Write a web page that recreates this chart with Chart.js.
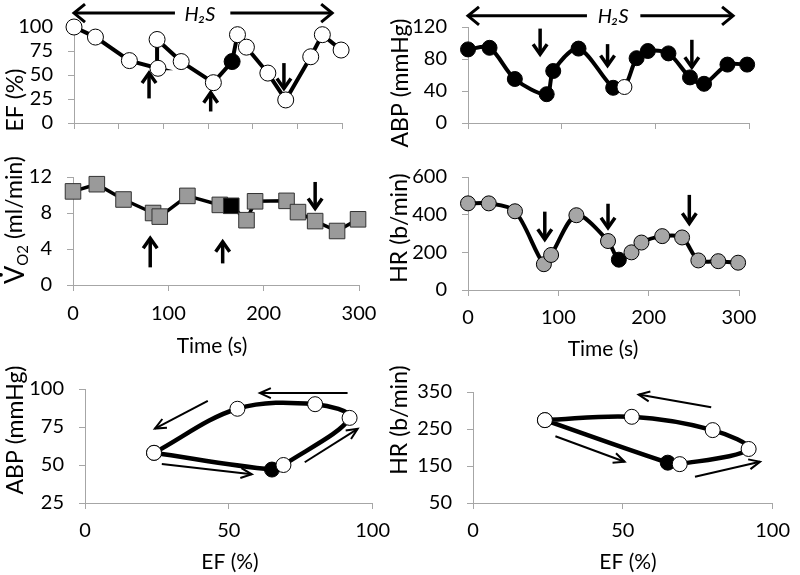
<!DOCTYPE html>
<html><head><meta charset="utf-8">
<script src="https://cdn.jsdelivr.net/npm/chart.js@4"></script>
<style>
html,body{margin:0;padding:0;background:#fff}
body{width:800px;height:575px;overflow:hidden;position:relative}
canvas{position:absolute;display:block}
</style></head><body>
<canvas id="cA"></canvas><canvas id="cB"></canvas><canvas id="cC"></canvas>
<canvas id="cD"></canvas><canvas id="cE"></canvas><canvas id="cF"></canvas>
<script>
// ---------------- DATA ----------------
const efTime   = [0, 24, 62, 94, 93, 120, 156, 177, 183, 193, 217, 237, 265, 278, 299];
const efValues = [100, 89.5, 65, 57, 87, 64, 42, 64, 92, 79, 52, 24, 69, 92, 76];
const efBlackIndex = 7;

const abpTime   = [0, 23, 50, 84, 91, 118, 155, 167, 180, 192, 214, 237, 252, 277, 298];
const abpValues = [92, 94, 55, 36, 65, 93, 44, 45, 81, 90, 87, 57, 49, 73, 73];
const abpWhiteIndex = 7;

const vo2Time   = [0, 25, 53, 84, 91, 120, 154, 166, 182, 191, 224, 236, 254, 277, 299];
const vo2Values = [10.4, 11.2, 9.5, 8.0, 7.6, 9.9, 8.9, 8.8, 7.2, 9.3, 9.35, 8.1, 7.1, 6.0, 7.3];
const vo2BlackIndex = 7;

const hrTime   = [0, 23, 52, 84, 92, 120, 155, 167, 181, 192, 215, 237, 255, 277, 299];
const hrValues = [460, 460, 418, 137, 186, 397, 260, 161, 200, 252, 286, 279, 157, 153, 145];
const hrBlackIndex = 7;

const loopEF  = [24, 65, 69, 92, 80, 53, 24];
const loopABP = [58, 47, 50, 81, 90, 87, 58];
const loopHR  = [274, 159, 155, 196, 247, 283, 274];
const loopBlackIndex = 1;

// tick labels
const efTicks   = [0, 25, 50, 75, 100];
const abpTicks  = [0, 40, 80, 120];
const vo2Ticks  = [0, 4, 8, 12];
const hrTicks   = [0, 200, 400, 600];
const timeTicksFine = [0, 50, 100, 150, 200, 250, 300];
const timeTicks = [0, 100, 200, 300];
const loopEFTicks  = [0, 50, 100];
const loopABPTicks = [25, 50, 75, 100];
const loopHRTicks  = [50, 150, 250, 350];

// annotation arrows [x1, y1, x2, y2] in data units (head at x2,y2)
const efArrows  = [[84, 25.6, 84, 52], [153, 12, 153, 31.6], [235, 62.4, 235, 35.9]];
const abpArrows = [[77, 118, 77, 86], [149, 98.6, 149, 71.8], [239, 104, 239, 69.6]];
const vo2Arrows = [[81, 1.96, 81, 5.2], [157, 2.4, 157, 4.8], [254, 11.45, 254, 8.5]];
const hrArrows  = [[85, 416, 85, 269], [155, 458, 155, 331], [245, 505, 245, 354]];
const loopABPArrows = [[91.3, 97.3, 60.8, 97.3], [42.7, 92.2, 24.3, 74.0], [26.7, 50.6, 58, 43.9], [76.4, 51.8, 94.8, 73.8]];
const loopHRArrows  = [[79.5, 309, 55.3, 343], [27.5, 230.5, 50.6, 161.5], [74.1, 120.7, 95.8, 161.5]];
// H2S span: [y, start, gapStart, gapEnd, end, labelX]
const h2sEF  = [114.5, 0, 113, 175, 289, 141];
const h2sABP = [134, 0, 127, 184, 283, 155];

// ---------------- RENDERING ----------------
const FONT = 'Lato, "Open Sans", sans-serif';
const TICK_SIZE = 20, XTITLE_SIZE = 21, YTITLE_SIZE = 23;
Chart.defaults.font.family = FONT;
Chart.defaults.font.size = TICK_SIZE;
Chart.defaults.color = '#000';

function pts(xs, ys) { return xs.map((x, i) => ({x: x, y: ys[i]})); }
function fills(n, base, idx, special) { const a = []; for (let i = 0; i < n; i++) a.push(i === idx ? special : base); return a; }

function head(ctx, x, y, ang, hl, hw) {
  const ux = Math.cos(ang), uy = Math.sin(ang);
  ctx.beginPath();
  ctx.moveTo(x - hl * ux - hw * uy, y - hl * uy + hw * ux);
  ctx.lineTo(x, y);
  ctx.lineTo(x - hl * ux + hw * uy, y - hl * uy - hw * ux);
  ctx.stroke();
}
function arrow(ctx, x1, y1, x2, y2, lw, hl, hw) {
  ctx.lineWidth = lw;
  ctx.beginPath(); ctx.moveTo(x1, y1); ctx.lineTo(x2, y2); ctx.stroke();
  head(ctx, x2, y2, Math.atan2(y2 - y1, x2 - x1), hl, hw);
}

const annotPlugin = {
  id: 'annot',
  afterDatasetsDraw(chart, args, o) {
    const ctx = chart.ctx, xs = chart.scales.x, ys = chart.scales.y;
    const px = v => xs.getPixelForValue(v), py = v => ys.getPixelForValue(v);
    ctx.save();
    ctx.strokeStyle = '#000'; ctx.fillStyle = '#000';
    ctx.lineCap = 'butt'; ctx.lineJoin = 'miter';
    (o.arrows || []).forEach(a => arrow(ctx, px(a[0]), py(a[1]), px(a[2]), py(a[3]), o.lw, o.hl, o.hw));
    if (o.h2s) {
      const h = o.h2s, y = py(h[0]);
      arrow(ctx, px(h[2]), y, px(h[1]), y, 3, 11, 9);
      arrow(ctx, px(h[3]), y, px(h[4]), y, 3, 11, 9);
      ctx.font = 'italic 20px ' + FONT;
      ctx.textAlign = 'center'; ctx.textBaseline = 'middle';
      ctx.fillText('H\u2082S', px(h[5]), y + 1);
    }
    const off = o.offset;
    (o.titles || []).forEach(t => {
      ctx.save();
      ctx.translate(t.x - off[0], t.y - off[1]);
      if (t.rot) ctx.rotate(-Math.PI / 2);
      ctx.textBaseline = 'middle';
      if (t.parts) {
        let total = 0;
        t.parts.forEach(p => { ctx.font = p.size + 'px ' + FONT; p.w = ctx.measureText(p.text).width; total += p.w; });
        let x = -total / 2;
        ctx.textAlign = 'left';
        t.parts.forEach(p => {
          ctx.font = p.size + 'px ' + FONT;
          ctx.fillText(p.text, x, p.dy || 0);
          if (p.dot) { ctx.beginPath(); ctx.arc(x + p.w / 2, -p.size * 0.52, 1.9, 0, Math.PI * 2); ctx.fill(); }
          x += p.w;
        });
      } else {
        ctx.font = (t.rot ? YTITLE_SIZE : XTITLE_SIZE) + 'px ' + FONT;
        ctx.textAlign = 'center';
        ctx.fillText(t.text, 0, 0);
      }
      ctx.restore();
    });
    ctx.restore();
  }
};

function axisOpts(min, max, ticks, labels, pad, fit) {
  return {
    type: 'linear', min: min, max: max, offset: false,
    afterFit: fit,
    afterBuildTicks: s => { s.ticks = ticks.map(v => ({value: v})); },
    ticks: {display: labels, padding: pad, font: {size: TICK_SIZE, family: FONT}, color: '#000', maxRotation: 0},
    grid: {display: true, drawOnChartArea: false, drawTicks: true, tickLength: 6, color: '#a6a6a6', lineWidth: 1},
    border: {display: true, color: '#a6a6a6', width: 1}
  };
}

function panel(id, box, area, xa, ya, datasets, annot) {
  const cv = document.getElementById(id);
  cv.width = box.w; cv.height = box.h;
  cv.style.left = box.x + 'px'; cv.style.top = box.y + 'px';
  cv.style.width = box.w + 'px'; cv.style.height = box.h + 'px';
  annot.offset = [box.x, box.y];
  return new Chart(cv, {
    type: 'scatter',
    data: {datasets: datasets},
    options: {
      responsive: false, animation: false, devicePixelRatio: 1,
      layout: {padding: {left: 0, top: area.T - box.y, right: box.x + box.w - area.R, bottom: 0}},
      plugins: {legend: {display: false}, tooltip: {enabled: false}, annot: annot},
      scales: {
        x: axisOpts(xa[0], xa[1], xa[2], xa[3], xa[4], s => { s.height = box.y + box.h - area.B; }),
        y: axisOpts(ya[0], ya[1], ya[2], true, 15, s => { s.width = area.L - box.x; })
      }
    },
    plugins: [annotPlugin]
  });
}

function lineDs(xs, ys, opts) {
  return Object.assign({
    data: pts(xs, ys), showLine: true, borderColor: '#000', borderWidth: 4, tension: 0,
    pointRadius: 8, pointBorderColor: '#000', pointBorderWidth: 1, clip: false
  }, opts);
}

// A: EF vs time
panel('cA', {x: 0, y: 0, w: 400, h: 150}, {L: 74, R: 342, T: 25, B: 142},
  [0, 300, timeTicksFine, false, 10], [0, 100, efTicks],
  [lineDs(efTime, efValues, {pointBackgroundColor: fills(efValues.length, '#fff', efBlackIndex, '#000')})],
  {arrows: efArrows, lw: 3.5, hl: 10, hw: 7, h2s: h2sEF,
   titles: [{text: 'EF (%)', x: 16, y: 100, rot: true}]});

// B: ABP vs time
panel('cB', {x: 385, y: 0, w: 415, h: 150}, {L: 468, R: 749, T: 25, B: 137},
  [0, 300, timeTicks, false, 10], [0, 120, abpTicks],
  [lineDs(abpTime, abpValues, {tension: 0.3, pointRadius: 7.5, pointBackgroundColor: fills(abpValues.length, '#000', abpWhiteIndex, '#fff')})],
  {arrows: abpArrows, lw: 3.5, hl: 10, hw: 7, h2s: h2sABP,
   titles: [{text: 'ABP (mmHg)', x: 401, y: 83, rot: true}]});

// C: VO2 vs time
panel('cC', {x: 0, y: 150, w: 400, h: 212}, {L: 73, R: 359, T: 175, B: 285},
  [0, 300, timeTicks, true, 11], [0, 12, vo2Ticks],
  [lineDs(vo2Time, vo2Values, {pointStyle: 'rect', pointRadius: 11, borderWidth: 3.5,
    pointBorderColor: '#333', pointBackgroundColor: fills(vo2Values.length, '#9a9a9a', vo2BlackIndex, '#000')})],
  {arrows: vo2Arrows, lw: 3.5, hl: 10, hw: 7,
   titles: [
     {x: 15, y: 220, rot: true, parts: [{text: 'V', size: 27, dy: 0, dot: true}, {text: 'O2', size: 15, dy: 8}, {text: ' (ml/min)', size: 23, dy: 0}]},
     {text: 'Time (s)', x: 212, y: 346}
   ]});

// D: HR vs time
panel('cD', {x: 385, y: 150, w: 415, h: 215}, {L: 468, R: 739, T: 163, B: 290},
  [0, 300, timeTicks, true, 10], [0, 600, hrTicks],
  [lineDs(hrTime, hrValues, {tension: 0.3, pointRadius: 7.5,
    pointBackgroundColor: fills(hrValues.length, '#a6a6a6', hrBlackIndex, '#000')})],
  {arrows: hrArrows, lw: 3.5, hl: 10, hw: 7,
   titles: [{text: 'HR (b/min)', x: 400, y: 228, rot: true}, {text: 'Time (s)', x: 603, y: 349}]});

// E: ABP vs EF loop
panel('cE', {x: 0, y: 362, w: 400, h: 213}, {L: 85, R: 373, T: 380, B: 503},
  [0, 100, loopEFTicks, true, 10], [25, 100, loopABPTicks],
  [lineDs(loopEF, loopABP, {tension: 0.35, borderWidth: 4.5, pointRadius: 7.5,
    pointBackgroundColor: fills(loopEF.length, '#fff', loopBlackIndex, '#000')})],
  {arrows: loopABPArrows, lw: 2, hl: 11, hw: 5,
   titles: [{text: 'ABP (mmHg)', x: 16, y: 430, rot: true}, {text: 'EF (%)', x: 230, y: 562}]});

// F: HR vs EF loop
panel('cF', {x: 385, y: 365, w: 415, h: 210}, {L: 473, R: 783, T: 380, B: 503},
  [0, 100, loopEFTicks, true, 10], [50, 350, loopHRTicks],
  [lineDs(loopEF, loopHR, {tension: 0.35, borderWidth: 4.5, pointRadius: 7.5,
    pointBackgroundColor: fills(loopEF.length, '#fff', loopBlackIndex, '#000')})],
  {arrows: loopHRArrows, lw: 2, hl: 11, hw: 5,
   titles: [{text: 'HR (b/min)', x: 400, y: 420, rot: true}, {text: 'EF (%)', x: 628, y: 562}]});
</script>
</body></html>
